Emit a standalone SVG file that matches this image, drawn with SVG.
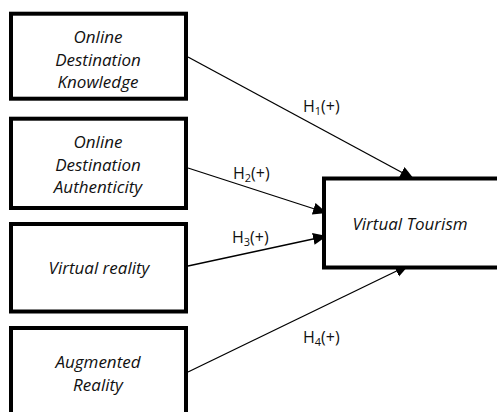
<svg xmlns="http://www.w3.org/2000/svg" width="497" height="412" viewBox="0 0 497 412">
<style>
.box{fill:#fff;stroke:#000;stroke-width:4}
.lbl{font-family:"Open Sans","Liberation Sans",sans-serif;font-style:italic;font-size:17px;fill:#111;text-anchor:middle}
.h{font-family:"Open Sans","Liberation Sans",sans-serif;font-size:16px;fill:#111}
.sub{font-size:11px}
.con{stroke:#000;stroke-width:1.3;fill:none;marker-end:url(#ah)}
</style>
<defs>
<marker id="ah" markerUnits="userSpaceOnUse" markerWidth="16" markerHeight="14" refX="14" refY="6" orient="auto">
<path d="M0,0 L14,6 L0,12 Z" fill="#000"/>
</marker>
</defs>
<rect width="497" height="412" fill="#fff"/>
<g id="connectors">
<line class="con" x1="188" y1="57" x2="414" y2="179"/>
<line class="con" x1="188" y1="168" x2="327" y2="213"/>
<line class="con" x1="188" y1="266" x2="327" y2="236"/>
<line class="con" x1="188" y1="372" x2="409" y2="265"/>
<text class="h" x="303" y="112">H<tspan class="sub" dy="3">1</tspan><tspan dy="-3">(+)</tspan></text>
<text class="h" x="233" y="179">H<tspan class="sub" dy="3">2</tspan><tspan dy="-3">(+)</tspan></text>
<text class="h" x="232" y="243">H<tspan class="sub" dy="3">3</tspan><tspan dy="-3">(+)</tspan></text>
<text class="h" x="303" y="343">H<tspan class="sub" dy="3">4</tspan><tspan dy="-3">(+)</tspan></text>
</g>
<g id="n1">
<rect class="box" x="11" y="13.7" width="175" height="85"/>
<text class="lbl" x="98" y="42.5">Online</text>
<text class="lbl" x="98" y="65.5">Destination</text>
<text class="lbl" x="98" y="88">Knowledge</text>
</g>
<g id="n2">
<rect class="box" x="11" y="118.7" width="175" height="89.3"/>
<text class="lbl" x="98" y="148">Online</text>
<text class="lbl" x="98" y="171">Destination</text>
<text class="lbl" x="98" y="193">Authenticity</text>
</g>
<g id="n3">
<rect class="box" x="11" y="224" width="175" height="87.5"/>
<text class="lbl" x="99" y="274">Virtual reality</text>
</g>
<g id="n4">
<rect class="box" x="11" y="328" width="175" height="100"/>
<text class="lbl" x="98" y="368">Augmented</text>
<text class="lbl" x="98" y="391">Reality</text>
</g>
<g id="vt">
<rect class="box" x="324" y="178.5" width="180" height="89"/>
<text class="lbl" x="410" y="230">Virtual Tourism</text>
</g>
</svg>
